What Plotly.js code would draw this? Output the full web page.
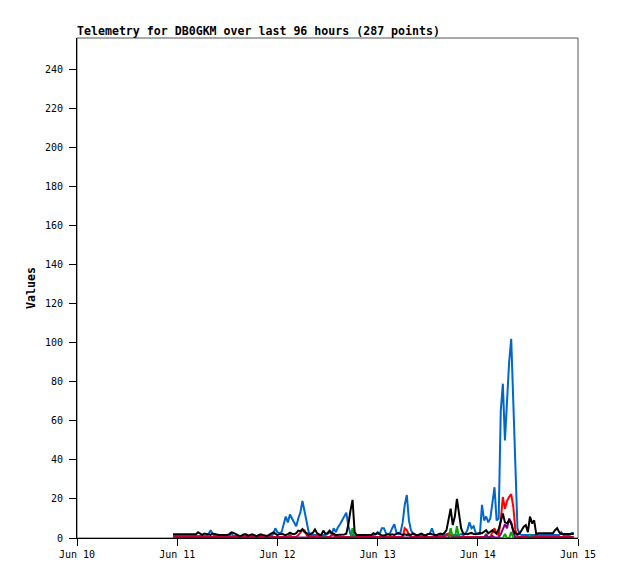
<!DOCTYPE html>
<html>
<head>
<meta charset="utf-8">
<script src="https://cdn.plot.ly/plotly-3.0.1.min.js"></script>
<style>
  html, body { margin: 0; padding: 0; background: #fff; }
  #telemetry-viz { width: 618px; height: 579px; }
</style>
</head>
<body>
<div id="telemetry-viz"></div>
<script>
// Telemetry samples, one every 30 minutes starting Jun 10 23:00
var start_time = Date.UTC(2024, 5, 10, 23, 0);
var step_minutes = 30;

// channel values (193 samples each)
var ch_blue = [
	1,1,1,1,1,1,1,1,1,1,
	1,1,1,1,1,1,1,2,4,2,
	1,1,1,1,1,1,1,1,2,1,
	1,1,1,1,1,1,1,1,1,1,
	1,1,1,1,1,1,1,1,2,5,
	3,2.5,3,7.5,11,8,12,10,8,6,
	10,13,19,14,9,3,1.5,1.5,1.5,1.5,
	1.5,1.5,1.5,1.5,2,3,2,5,3,5.5,
	7,9,11,13,6,2,1.5,1.5,1.5,1.5,
	1.5,1.5,1.5,1.5,1.5,1.5,1.5,2,3,2,
	5,5,2.5,2,2.5,5,7,3,2,3,
	8,17,22,9,4,2,1.5,1.5,1.5,1.5,
	1.5,1.5,2,2,5,2,1.5,1.5,1.5,1.5,
	1.5,1.5,1.5,1.5,1.5,1.5,1.5,1.5,2,1.5,
	2,4,8,5,6,2.5,2,2,17,9,
	11,8,10,19,26,9,10,65,79,50,
	72,90,102,68,28,5,2,1.5,1.5,1.5,
	1.5,1.5,1.5,1.5,1.5,1.5,1.5,1.5,1.5,1.5,
	1.5,1.5,1.5,1.5,1.5,1.5,3,1.5,1.5,1.5,
	1.5,2.5,2.5
];

var ch_red = [
	0.5,0.5,0.5,0.5,0.5,0.5,0.5,0.5,0.5,0.5,
	0.5,0.5,0.5,0.5,0.5,0.5,0.5,0.5,0.5,0.5,
	0.5,0.5,0.5,0.5,0.5,0.5,0.5,0.5,0.5,0.5,
	0.5,0.5,0.5,0.5,0.5,0.5,0.5,0.5,0.5,0.5,
	0.5,0.5,0.5,0.5,0.5,0.5,0.5,0.5,0.5,0.5,
	0.5,0.5,0.5,0.5,0.5,0.5,1.5,0.5,0.5,0.5,
	1.5,3,4,4,1.5,0.5,0.5,0.5,0.5,1.5,
	0.5,0.5,0.5,0.5,0.5,0.5,1.5,1.5,0.5,0.5,
	0.5,0.5,0.5,0.5,0.5,0.5,0.5,0.5,0.5,0.5,
	0.5,0.5,0.5,0.5,0.5,0.5,0.5,0.5,0.5,0.5,
	0.5,0.5,0.5,0.5,0.5,0.5,0.5,0.5,0.5,0.5,
	0.5,5,4,1.5,0.5,0.5,0.5,0.5,0.5,0.5,
	0.5,0.5,0.5,0.5,0.5,0.5,0.5,0.5,0.5,0.5,
	0.5,2,2.3,1.5,0.5,0.5,0.5,0.5,0.5,0.5,
	0.5,0.5,0.5,0.5,0.5,0.5,0.5,0.5,0.5,0.5,
	0.5,0.5,0.5,3,5,2,1.5,9,21,15,
	19,21,22.5,16,4,1,0.5,0.5,0.5,0.5,
	0.5,0.5,0.5,0.5,0.5,0.5,0.5,0.5,0.5,0.5,
	0.5,0.5,0.5,0.5,0.5,0.5,0.5,0.5,0.5,0.5,
	0.5,0.5,0.5
];

var ch_green = [
	0,0,0,0,0,0,0,0,0,0,
	0,0,0,0,0,0,0,0,0,0,
	0,0,0,0,0,0,0,0,0,0,
	0,0,0,0,0,0,0,0,0,0,
	0,0,0,0,0,0,0,0,0,0,
	0,0,0,0,0,0,0,0,0,0,
	0,0,0,0,0,0,0,0,0,0,
	0,0,1,0,0,0,0,0,0,0,
	0,0,0,0,0,0,5,0,0,0,
	0,0,0,0,0,0,0,0,0,0,
	0,0,0,0,0,0,0,0,0,0,
	0,0,0,0,0,0,0,0,0,0,
	0,0,0,0,0,0,0,0,0,0,
	0,0,0,5,0,0,6,0,0,0,
	0,0,0,0,0,0,0,0,0,0,
	2,0,0,0,0,0,0,0,0,2,
	0,0,3,0,0,0,0,0,0,0,
	0,1.5,0,0,0,0,0,0,0,0,
	0,0,0,0,0,0,0,0,0,0,
	0,0,0
];

var ch_purple = [
	0.3,0.3,0.3,0.3,0.3,0.3,0.3,0.3,0.3,0.3,
	0.3,0.3,0.3,0.3,0.3,0.3,0.3,0.3,0.3,0.3,
	0.3,0.3,0.3,0.3,0.3,0.3,0.3,0.3,0.3,0.3,
	0.3,0.3,0.3,0.3,0.3,0.3,0.3,0.3,0.3,0.3,
	0.3,0.3,0.3,0.3,0.3,0.3,0.3,0.3,0.3,0.3,
	0.3,0.3,0.3,0.3,0.3,0.3,0.3,0.3,0.3,0.3,
	0.3,0.3,0.3,0.3,0.3,0.3,0.3,0.3,0.3,0.3,
	0.3,0.3,0.3,0.3,0.3,0.3,0.3,0.3,0.3,0.3,
	0.3,0.3,0.3,0.3,0.3,0.3,0.3,0.3,0.3,0.3,
	0.3,0.3,0.3,0.3,0.3,0.3,0.3,0.3,0.3,0.3,
	0.3,0.3,0.3,0.3,0.3,0.3,0.3,0.3,0.3,0.3,
	0.3,0.3,0.3,0.3,0.3,0.3,0.3,0.3,0.3,0.3,
	0.3,0.3,0.3,0.3,0.3,0.3,0.3,0.3,0.3,0.3,
	0.3,0.3,0.3,0.3,0.3,0.3,0.3,0.3,0.3,0.3,
	0.3,0.3,0.3,0.3,0.3,0.3,0.3,0.3,0.3,0.3,
	1.5,0.3,0.3,1,0.3,0.3,0.3,2,5,7,
	5,10,8,3,0.3,0.3,0.3,0.3,0.3,0.3,
	0.3,0.3,0.3,0.3,0.3,0.3,0.3,0.3,0.3,0.3,
	0.3,0.3,0.3,0.3,0.3,0.3,0.3,0.3,0.3,0.3,
	0.3,0.3,0.3
];

var ch_black = [
	1.9,1.9,1.9,1.9,1.9,1.9,1.9,1.9,1.9,1.9,
	1.9,1.9,2.9,2.2,1.6,2.3,2,1.7,1.6,2.3,
	2,1.6,1.6,1.6,1.6,1.6,1.6,2,2.9,2.6,
	1.9,1.3,0.9,1.3,1.9,1.9,1.2,1.6,1.9,1.5,
	0.9,1.5,1.9,1.6,1.2,1.1,1.6,2.2,2.9,2.2,
	1.5,2,2.2,1.8,1.5,2,2.7,2.2,1.9,2.5,
	3.8,3.5,4.6,3,2.5,1.5,2,2.7,4.4,2.5,
	1.8,1.5,3.8,2.2,2.5,3.8,2.5,2.2,1.5,1.5,
	1.5,1.5,1.8,2.2,7,14,19.5,3,1.5,1.5,
	1.5,1.5,1.5,1.5,1.5,1.5,2.5,1.9,2.5,1.9,
	1.3,1.3,1.6,1.9,1.6,1.9,1.6,2,2.6,2,
	1.6,1.9,1.6,1.9,1.6,2.3,1.6,1.3,1.9,2.3,
	1.6,1.3,1.9,2.3,1.9,1.6,1.3,1.9,2.3,1.9,
	2.6,4,9,15,6.6,11,20,12,5,2.3,
	1.9,1.9,2.3,2.6,2,1.9,2.3,2.6,2.4,3,
	4,2.4,3,4,3,2.4,4.5,8,12.6,8,
	7.5,9,7.5,4,2.4,2,2.4,4,5.8,6.6,
	3,11,7.5,9,2,2.4,2.4,2.4,2.4,2.4,
	2.4,2.4,2.4,4,5,3,2,2,2,2,
	2,2,2
];

var series_names  = ['ch1', 'ch2', 'ch3', 'ch4', 'ch5'];
var series_colors = ['#0066cc', '#ff0000', '#00aa00', '#800080', '#000000'];

function sample_times(n) {
	var out = [];
	for (var i = 0; i < n; i++) {
		out.push(new Date(start_time + i * step_minutes * 60000).toISOString().slice(0, 16).replace('T', ' '));
	}
	return out;
}

function generate_telemetry_viz(div_id) {
	var xValues = sample_times(ch_blue.length);
	var all_series = [ch_blue, ch_red, ch_green, ch_purple, ch_black];
	var data = all_series.map(function(yValues, k) {
		return {
			x: xValues,
			y: yValues,
			type: 'scatter',
			mode: 'lines',
			name: series_names[k],
			hoverinfo: 'none',
			line: { color: series_colors[k], width: 2 }
		};
	});
	var tick_font = { family: 'DejaVu Sans Mono', size: 10, color: '#000' };
	var layout = {
		width: 618,
		height: 579,
		margin: { l: 77, r: 40, t: 38, b: 41 },
		paper_bgcolor: '#fff',
		plot_bgcolor: '#fff',
		showlegend: false,
		title: {
			text: 'Telemetry for DB0GKM over last 96 hours (287 points)',
			font: { family: 'DejaVu Sans Mono', size: 11.6, weight: 'bold', color: '#000' },
			xref: 'container', x: 77 / 618, xanchor: 'left',
			yref: 'container', y: 1 - 31 / 579, yanchor: 'middle'
		},
		xaxis: {
			type: 'date',
			range: ['2024-06-10 00:00', '2024-06-15 00:00'],
			dtick: 86400000,
			tickformat: '%b %d',
			ticks: 'outside', ticklen: 7, tickcolor: '#000', tickwidth: 1,
			showline: true, linecolor: '#000', linewidth: 1,
			showgrid: false, zeroline: false,
			tickfont: tick_font
		},
		yaxis: {
			range: [0, 256],
			dtick: 20,
			ticks: 'outside', ticklen: 7, tickcolor: '#000', tickwidth: 1,
			showline: true, linecolor: '#000', linewidth: 1,
			showgrid: false, zeroline: false,
			ticklabelstandoff: 4,
			tickfont: tick_font
		},
		shapes: [{
			type: 'rect', xref: 'paper', yref: 'paper',
			x0: 0, x1: 1, y0: 0, y1: 1,
			line: { color: '#555', width: 1 },
			layer: 'below'
		}],
		annotations: [{
			text: 'Values', textangle: -90, showarrow: false,
			xref: 'paper', yref: 'paper', x: (31 - 77) / 501, y: 0.5,
			xanchor: 'center', yanchor: 'middle',
			font: { family: 'DejaVu Sans Mono', size: 11.6, weight: 'bold', color: '#000' }
		}]
	};
	Plotly.newPlot(div_id, data, layout, { displayModeBar: false, staticPlot: true });
} // generate_telemetry_viz

generate_telemetry_viz('telemetry-viz');
</script>
</body>
</html>
